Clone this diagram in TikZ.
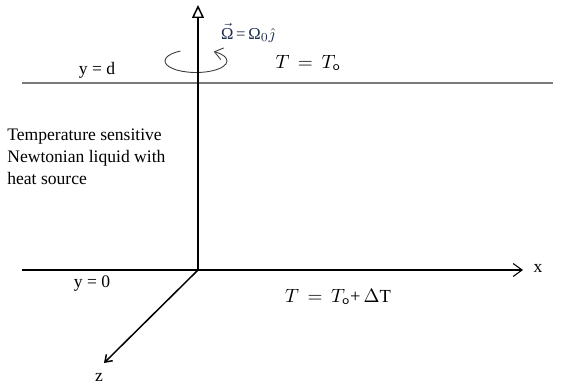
\documentclass[tikz,border=0pt]{standalone}
\usepackage{fontspec}
\setmainfont{Liberation Serif}
\usetikzlibrary{arrows.meta}
\definecolor{rbink}{HTML}{000000}
\definecolor{rbwall}{HTML}{7A7A7A}
\definecolor{rbswirl}{HTML}{3A3A3A}
\definecolor{rbomega}{HTML}{1F2F4F}
\tikzset{
  rbaxis/.style={
    draw=rbink,
    line width=0.85pt
  },
  rbwall/.style={
    draw=rbwall,
    line width=1.1pt
  },
  rbswirl/.style={
    draw=rbswirl,
    line width=0.5pt,
    -{Straight Barb[length=1.6mm,width=2.4mm]}
  },
  rblabel/.style={
    font=\fontsize{10}{12.5}\selectfont,
    text=rbink,
    inner sep=0pt
  },
  rbmath/.style={
    rblabel,
    font=\fontsize{10.5}{12.5}\selectfont
  },
  rbsmall/.style={
    rblabel,
    font=\fontsize{9.5}{11}\selectfont
  }
}

\begin{document}
\begin{tikzpicture}[x=0.02cm,y=-0.02cm]
  \useasboundingbox (0,0) rectangle (563,385);

  % axes and walls
  \coordinate (origin) at (198,270);
  \coordinate (ytip) at (198,5);
  \coordinate (xstart) at (22,270);
  \coordinate (xtip) at (523,270);
  \coordinate (ztip) at (104,363);
  \coordinate (topleft) at (22,83);
  \coordinate (topright) at (553,83);

  \draw[rbwall] (topleft) -- (topright);
  \draw[rbswirl] (196,61) ++(-120:31 and 11.5) arc[start angle=-120,end angle=-415,x radius=31,y radius=11.5];
  \draw[rbaxis, -{Triangle[open,length=2.6mm,width=2.4mm]}] (origin) -- (ytip);
  \draw[rbaxis, line width=0.6pt, -{Straight Barb[length=1.8mm,width=2.6mm]}] (xstart) -- (xtip);
  \draw[rbaxis, -{Straight Barb[length=1.3mm,width=1.8mm]}] (origin) -- (ztip);

  % labels
  \node[rblabel] (xlabel) at (538,268) {x};
  \node[rblabel] (zlabel) at (99,377) {z};
  \node[rblabel] (ytop) at (97,70) {y = d};
  \node[rblabel] (ybottom) at (92,284) {y = 0};
  \node[rbmath] (ttop) at (308,63) {$T\,=\,T_{\mathsf{o}}$};
  \node[rbmath] (tbottom) at (338,297) {$T\,=\,T_{\mathsf{o}}$+\,$\Delta$T};
  \node[rbsmall, text=rbomega] (omega) at (248,33) {$\vec{\hbox{Ω}}$\,=\,Ω$_0\hat{\jmath}$};
  \node[rblabel, anchor=west, align=left] (liquid) at (7,157)
    {Temperature sensitive\\Newtonian liquid with\\heat source};
\end{tikzpicture}
\end{document}
